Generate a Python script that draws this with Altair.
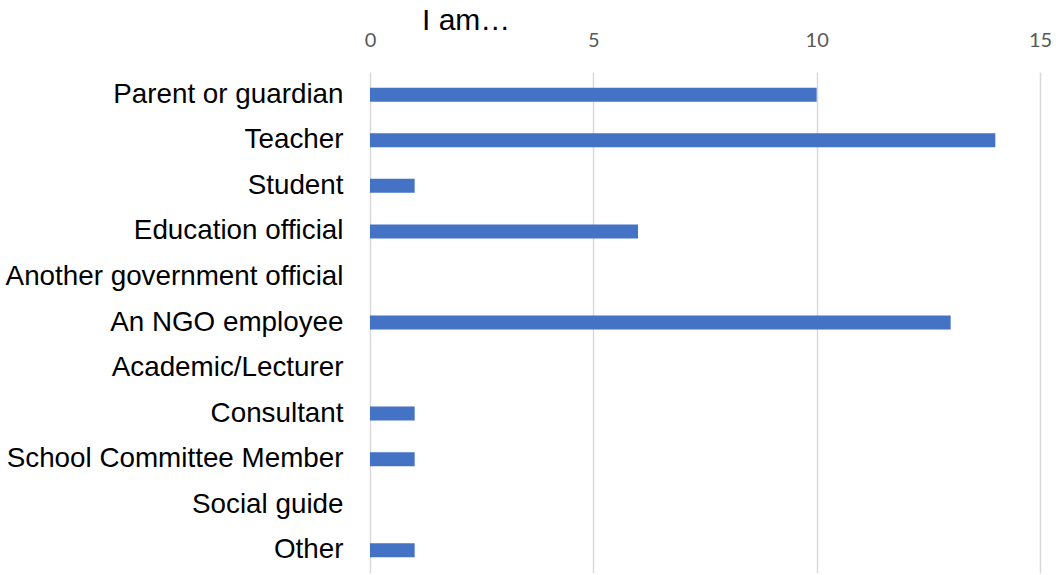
import altair as alt
import pandas as pd

categories = [
    "Parent or guardian",
    "Teacher",
    "Student",
    "Education official",
    "Another government official",
    "An NGO employee",
    "Academic/Lecturer",
    "Consultant",
    "School Committee Member",
    "Social guide",
    "Other",
]
counts = [10, 14, 1, 6, 0, 13, 0, 1, 1, 0, 1]
x_ticks = [0, 5, 10, 15]

df = pd.DataFrame({"category": categories, "count": counts})

chart = (
    alt.Chart(df)
    .mark_bar(color="#4472C4", height=14)
    .encode(
        x=alt.X(
            "count:Q",
            scale=alt.Scale(domain=[0, 15], nice=False),
            axis=alt.Axis(
                orient="top",
                values=x_ticks,
                title=None,
                domain=False,
                ticks=False,
                grid=True,
                gridColor="#d9d9d9",
                gridWidth=1.5,
                labelColor="#595959",
                labelFont="Lato",
                labelFontSize=20,
                labelPadding=22,
                labelFlush=False,
            ),
        ),
        y=alt.Y(
            "category:N",
            sort=categories,
            scale=alt.Scale(paddingInner=0.0, paddingOuter=0.0),
            axis=alt.Axis(
                title=None,
                domain=False,
                ticks=False,
                labelColor="#000000",
                labelFont="Liberation Sans",
                labelFontSize=27.8,
                labelFontWeight="normal",
                labelPadding=27,
                labelLimit=400,
            ),
        ),
    )
    .properties(
        width=670,
        height=501,
        title=alt.Title(
            "I am…",
            anchor="start",
            frame="group",
            font="Liberation Sans",
            fontSize=30,
            fontWeight="normal",
            color="#000000",
            dx=52,
            dy=10,
            offset=4,
        ),
        padding={"left": 370, "top": 72, "right": 16, "bottom": 2},
        autosize=alt.AutoSizeParams(type="none"),
    )
    .configure_view(stroke=None)
)

chart.save("out.html", embed_options={"renderer": "svg", "actions": False})
